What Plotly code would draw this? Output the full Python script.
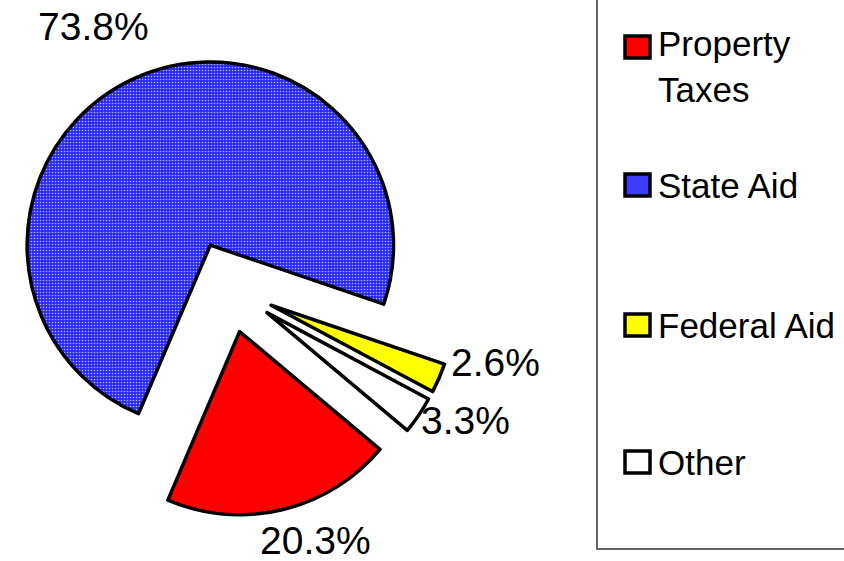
import plotly.graph_objects as go

# Revenue sources (percent of total)
labels = ["Property Taxes", "State Aid", "Federal Aid", "Other"]
legend_text = ["Property<br>Taxes", "State Aid", "Federal Aid", "Other"]
values = [20.3, 73.8, 2.6, 3.3]
colors = ["#ff0000", "#2828ff", "#ffff00", "#ffffff"]
swatch_colors = ["#ff0000", "#3c3cff", "#ffff00", "#ffffff"]

W, H = 844, 561
FONT = "Liberation Sans, Arial, Helvetica, sans-serif"


def px(x):
    return x / W


def py(y):
    return 1 - y / H


fig = go.Figure()

fig.add_trace(go.Pie(
    labels=labels,
    values=values,
    sort=False,
    direction="clockwise",
    rotation=130,
    pull=[0.25] * len(values),
    textinfo="none",
    hoverinfo="label+percent",
    showlegend=False,
    domain=dict(x=[0, 458 / W], y=[44 / H, 504 / H]),
    marker=dict(
        colors=colors,
        line=dict(color="black", width=3.5),
        pattern=dict(
            shape=["", ".", "", ""],
            fgcolor=["#ff0000", "#b8b8ff", "#ffff00", "#ffffff"],
            bgcolor=colors,
            size=3,
            solidity=0.22,
        ),
    ),
))

# Percent labels placed around the exploded pie
label_pos = [(315, 540), (93, 26), (495, 362), (465, 420)]
annotations = []
for v, (lx, ly) in zip(values, label_pos):
    annotations.append(dict(
        x=px(lx), y=py(ly), xref="paper", yref="paper",
        text=f"{v:.1f}%", showarrow=False,
        xanchor="center", yanchor="middle",
        font=dict(family=FONT, size=39, color="black"),
    ))

# Legend: frame, swatches and entry text
shapes = [dict(
    type="rect", xref="paper", yref="paper",
    x0=px(597), x1=px(860), y0=py(549), y1=py(-10),
    line=dict(color="#333333", width=1.5), fillcolor="rgba(0,0,0,0)",
)]
entry_y = [47, 185, 325, 462]
text_y = [67, 185, 325, 462]
for c, ey, ty, t in zip(swatch_colors, entry_y, text_y, legend_text):
    shapes.append(dict(
        type="rect", xref="paper", yref="paper",
        x0=px(625), x1=px(650), y0=py(ey + 11), y1=py(ey - 11),
        line=dict(color="black", width=3.5), fillcolor=c,
    ))
    annotations.append(dict(
        x=px(656), y=py(ty), xref="paper", yref="paper",
        text=t, showarrow=False, align="left",
        xanchor="left", yanchor="middle",
        font=dict(family=FONT, size=35, color="black"),
    ))

fig.update_layout(
    width=W, height=H,
    margin=dict(l=0, r=0, t=0, b=0),
    paper_bgcolor="white",
    plot_bgcolor="white",
    annotations=annotations,
    shapes=shapes,
    showlegend=False,
)

fig.write_html("out.html")
